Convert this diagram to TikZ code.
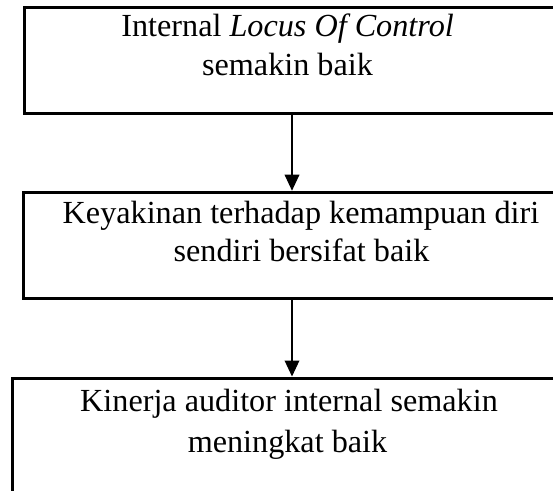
\documentclass[tikz,border=0pt]{standalone}
\usepackage{fontspec}
\setmainfont{Liberation Serif}
\usetikzlibrary{arrows.meta}
\begin{document}
\begin{tikzpicture}[x=1pt,y=-1pt,
  box/.style={draw=black, line width=2.6pt, rectangle, inner sep=0pt, outer sep=0pt, anchor=north west},
  txt/.style={inner sep=0pt, anchor=base, font=\fontsize{32.2}{38}\selectfont},
  conn/.style={line width=1.2pt, -{Triangle[width=14.7pt,length=16pt]}, shorten >=1.8pt}]
\useasboundingbox (0,0) rectangle (553,490);
\clip (0,0) rectangle (553,490);
\node[box, minimum width=534.6pt, minimum height=106.2pt] (b1) at (24.7,7.5) {};
\node[box, minimum width=537.4pt, minimum height=105.8pt] (b2) at (23.3,192.5) {};
\node[box, minimum width=559pt, minimum height=131.7pt] (b3) at (12.5,378.3) {};
\node[txt] (t1a) at (287.6,36.7) {Internal \textit{Locus Of Control}};
\node[txt] (t1b) at (287.5,75) {semakin baik};
\node[txt] (t2a) at (301,223.3) {Keyakinan terhadap kemampuan diri};
\node[txt] (t2b) at (301.5,261.7) {sendiri bersifat baik};
\node[txt] (t3a) at (289,411.5) {Kinerja auditor internal semakin};
\node[txt] (t3b) at (287.5,452) {meningkat baik};
\draw[conn] (b1.south) -- (b2.north);
\draw[conn] (b2.south) -- (b3.north);
\end{tikzpicture}
\end{document}
